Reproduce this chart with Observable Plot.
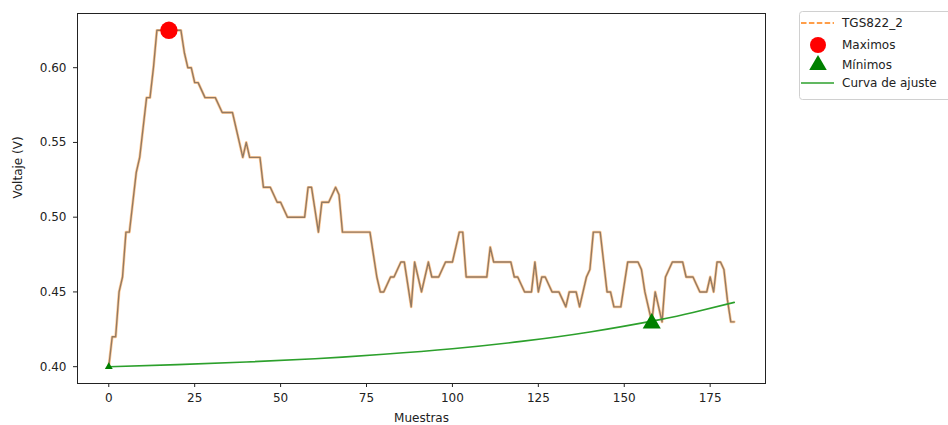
<!DOCTYPE html>
<html><head><meta charset="utf-8">
<script src="https://cdn.jsdelivr.net/npm/d3@7"></script>
<script src="https://cdn.jsdelivr.net/npm/@observablehq/plot@0.6"></script>
<style>
html,body{margin:0;padding:0;background:#fff;width:948px;height:425px;overflow:hidden;font-family:"DejaVu Sans",sans-serif;}
#wrap{position:relative;width:948px;height:425px;}
#legend{position:absolute;left:0;top:0;}
</style></head><body><div id="wrap"></div>
<script>
// TGS822_2 sensor voltage, one value per sample (0..182)
const voltage = [
0.40,0.42,0.42,0.45,0.46,0.49,0.49,0.51,0.53,0.54,
0.56,0.58,0.58,0.60,0.625,0.625,0.625,0.625,0.625,0.625,
0.625,0.625,0.61,0.60,0.60,0.59,0.59,0.585,0.58,0.58,
0.58,0.58,0.575,0.57,0.57,0.57,0.57,0.56,0.55,0.54,
0.55,0.54,0.54,0.54,0.54,0.52,0.52,0.52,0.515,0.51,
0.51,0.505,0.50,0.50,0.50,0.50,0.50,0.50,0.52,0.52,
0.505,0.49,0.51,0.51,0.51,0.515,0.52,0.515,0.49,0.49,
0.49,0.49,0.49,0.49,0.49,0.49,0.49,0.475,0.46,0.45,
0.45,0.455,0.46,0.46,0.465,0.47,0.47,0.455,0.44,0.47,
0.46,0.45,0.46,0.47,0.46,0.46,0.46,0.465,0.47,0.47,
0.47,0.48,0.49,0.49,0.46,0.46,0.46,0.46,0.46,0.46,
0.46,0.48,0.47,0.47,0.47,0.47,0.47,0.47,0.46,0.46,
0.455,0.45,0.45,0.45,0.47,0.45,0.46,0.46,0.455,0.45,
0.45,0.45,0.445,0.44,0.45,0.45,0.45,0.44,0.45,0.46,
0.465,0.49,0.49,0.49,0.47,0.45,0.45,0.44,0.44,0.44,
0.455,0.47,0.47,0.47,0.47,0.465,0.45,0.44,0.43,0.45,
0.44,0.43,0.46,0.465,0.47,0.47,0.47,0.47,0.46,0.46,
0.46,0.455,0.45,0.45,0.45,0.46,0.45,0.47,0.47,0.465,
0.445,0.43,0.43
];
const samples = voltage.map((_, i) => i);

// fitted curve ("Curva de ajuste"), read at a few samples
const fitX = [0, 20, 40, 60, 80, 100, 120, 140, 160, 170, 182];
const fitY = [0.4000, 0.4014, 0.4031, 0.4053, 0.4083, 0.4120, 0.4169, 0.4232, 0.4313, 0.4362, 0.4430];

// markers
const maxX = [17.5], maxY = [0.625];
const minX = [158], minY = [0.429];
const startX = [0], startY = [0.40];

const xTicks = [0, 25, 50, 75, 100, 125, 150, 175];
const yTicks = [0.40, 0.45, 0.50, 0.55, 0.60];

const legendLabels = ["TGS822_2", "Maximos", "Mínimos", "Curva de ajuste"];

const series = samples.map((s, i) => ({x: s, y: voltage[i]}));
const fit = fitX.map((x, i) => ({x, y: fitY[i]}));
const maxPts = maxX.map((x, i) => ({x, y: maxY[i]}));
const minPts = minX.map((x, i) => ({x, y: minY[i]}));
const startPts = startX.map((x, i) => ({x, y: startY[i]}));

const chart = Plot.plot({
  width: 948, height: 425,
  marginLeft: 77, marginRight: 183, marginTop: 13, marginBottom: 42,
  style: {fontFamily: "DejaVu Sans, sans-serif", fontSize: "12px", color: "#222", background: "transparent"},
  x: {domain: [-9.1, 191.1], ticks: xTicks, tickFormat: d3.format("d"), label: null, tickSize: 4, tickPadding: 6},
  y: {domain: [0.38875, 0.63625], ticks: yTicks, tickFormat: d3.format(".2f"), label: null, tickSize: 4, tickPadding: 7},
  marks: [
    Plot.line(series, {x: "x", y: "y", stroke: "#ff8c1a", strokeWidth: 2.8, strokeOpacity: 0.45}),
    Plot.line(series, {x: "x", y: "y", stroke: "#947a62", strokeWidth: 1.4}),
    Plot.line(fit, {x: "x", y: "y", stroke: "#2ca02c", strokeWidth: 1.6, curve: "natural"}),
    Plot.dot(maxPts, {x: "x", y: "y", r: 8.7, fill: "#ff0000", stroke: "none"}),
    Plot.dot(minPts, {x: "x", y: "y", r: 6.7, symbol: "triangle", fill: "#008000", stroke: "none"}),
    Plot.dot(startPts, {x: "x", y: "y", r: 2.9, symbol: "triangle", fill: "#008000", stroke: "none"}),
    Plot.frame({stroke: "#222", strokeWidth: 1}),
    Plot.text(["Muestras"], {frameAnchor: "bottom", dy: 35, lineAnchor: "middle", fill: "#222", fontSize: 12}),
    Plot.text(["Voltaje (V)"], {frameAnchor: "left", dx: -59, rotate: -90, lineAnchor: "middle", fill: "#222", fontSize: 12})
  ]
});
document.getElementById("wrap").appendChild(chart);

// legend (upper right, outside the axes)
const lg = d3.select("#wrap").append("svg").attr("id", "legend")
  .attr("width", 948).attr("height", 425)
  .style("position", "absolute").style("left", "0px").style("top", "0px")
  .style("font-family", "DejaVu Sans, sans-serif").style("font-size", "12px");
lg.append("rect").attr("x", 799.5).attr("y", 11.5).attr("width", 170).attr("height", 88)
  .attr("rx", 3).attr("fill", "#fff").attr("stroke", "#d0d0d0");
const rowsY = [23, 45, 65, 83];
lg.append("line").attr("x1", 801).attr("x2", 834).attr("y1", rowsY[0]).attr("y2", rowsY[0])
  .attr("stroke", "#ff7f0e").attr("stroke-width", 1.6).attr("stroke-dasharray", "5.5,2.4");
lg.append("circle").attr("cx", 818).attr("cy", rowsY[1]).attr("r", 8).attr("fill", "#ff0000");
lg.append("path").attr("d", d3.symbol(d3.symbolTriangle, Math.PI * 6.5 * 6.5)()).attr("transform", `translate(818,${rowsY[2]})`).attr("fill", "#008000");
lg.append("line").attr("x1", 801).attr("x2", 834).attr("y1", rowsY[3]).attr("y2", rowsY[3])
  .attr("stroke", "#2ca02c").attr("stroke-width", 1.6);
legendLabels.forEach((t, i) => {
  lg.append("text").attr("x", 842).attr("y", rowsY[i]).attr("dy", "0.35em").attr("fill", "#222").text(t);
});
</script>
</body></html>
